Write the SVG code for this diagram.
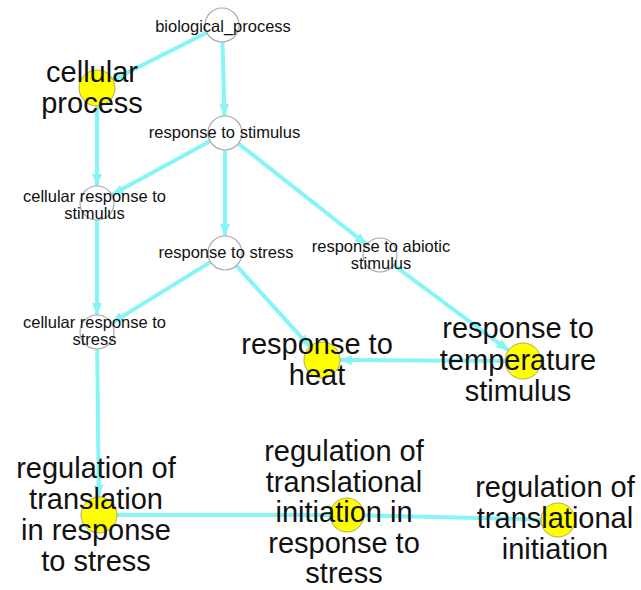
<svg xmlns="http://www.w3.org/2000/svg" width="641" height="590" viewBox="0 0 641 590">
<style>
.e{stroke:#86f5f7;stroke-width:4;fill:none}
.a{marker-end:url(#arr)}
.w{fill:#ffffff;stroke:#aaaaaa;stroke-width:1.2}
.y{fill:#ffff00;stroke:#aaaa66;stroke-width:1}
.s{font-family:"Liberation Sans",Arial,sans-serif;font-size:16.5px;fill:#111;text-anchor:middle}
.l{font-family:"Liberation Sans",Arial,sans-serif;font-size:29px;fill:#111;text-anchor:middle}
</style>
<defs>
<marker id="arr" viewBox="0 0 12 10" refX="12" refY="5" markerWidth="12" markerHeight="10" markerUnits="userSpaceOnUse" orient="auto">
<path d="M0,0 L12,5 L0,10 z" fill="#86f5f7"/>
</marker>
</defs>
<rect width="641" height="590" fill="#ffffff"/>
<g id="edges">
<line class="e a" x1="222" y1="25" x2="113.1" y2="79.9"/>
<line class="e a" x1="222" y1="25" x2="224.5" y2="116"/>
<line class="e a" x1="97" y1="88" x2="97" y2="186"/>
<line class="e a" x1="225" y1="133" x2="111.9" y2="194.8"/>
<line class="e a" x1="225" y1="133" x2="225" y2="236"/>
<line class="e a" x1="225" y1="133" x2="366.6" y2="244.5"/>
<line class="e a" x1="97" y1="203" x2="97" y2="315"/>
<line class="e a" x1="225" y1="253" x2="111.5" y2="323.1"/>
<line class="e a" x1="225" y1="253" x2="309.9" y2="346.7"/>
<line class="e a" x1="380" y1="255" x2="508.5" y2="350.3"/>
<line class="e a" x1="523" y1="361" x2="340" y2="360.1"/>
<line class="e a" x1="97" y1="332" x2="98.8" y2="497"/>
<line class="e" x1="99" y1="515" x2="347" y2="515"/>
<line class="e" x1="347" y1="515" x2="558" y2="520"/>
</g>
<g id="biological_process"><circle class="w" cx="222" cy="25" r="17"/><text class="s" x="223" y="32">biological_process</text></g>
<g id="cellular_process"><circle class="y" cx="97" cy="88" r="18"/><text class="l" x="92" y="82">cellular</text><text class="l" x="92" y="113">process</text></g>
<g id="response_to_stimulus"><circle class="w" cx="225" cy="133" r="17"/><text class="s" x="224.5" y="138">response to stimulus</text></g>
<g id="cellular_response_to_stimulus"><circle class="w" cx="97" cy="203" r="17"/><text class="s" x="94.5" y="202">cellular response to</text><text class="s" x="94.5" y="219">stimulus</text></g>
<g id="response_to_stress"><circle class="w" cx="225" cy="253" r="17"/><text class="s" x="226" y="258">response to stress</text></g>
<g id="response_to_abiotic_stimulus"><circle class="w" cx="380" cy="255" r="17"/><text class="s" x="381" y="252">response to abiotic</text><text class="s" x="381" y="269">stimulus</text></g>
<g id="cellular_response_to_stress"><circle class="w" cx="97" cy="332" r="17"/><text class="s" x="94.5" y="328">cellular response to</text><text class="s" x="94.5" y="345">stress</text></g>
<g id="response_to_heat"><circle class="y" cx="322" cy="360" r="18"/><text class="l" x="317" y="354">response to</text><text class="l" x="317" y="385">heat</text></g>
<g id="response_to_temperature_stimulus"><circle class="y" cx="523" cy="361" r="18"/><text class="l" x="518" y="338">response to</text><text class="l" x="518" y="370">temperature</text><text class="l" x="518" y="401">stimulus</text></g>
<g id="regulation_of_translation_in_response_to_stress"><circle class="y" cx="99" cy="515" r="18"/><text class="l" x="96" y="478">regulation of</text><text class="l" x="96" y="509">translation</text><text class="l" x="96" y="540">in response</text><text class="l" x="96" y="571">to stress</text></g>
<g id="regulation_of_translational_initiation_in_response_to_stress"><circle class="y" cx="347" cy="515" r="17"/><text class="l" x="344" y="461">regulation of</text><text class="l" x="344" y="491.5">translational</text><text class="l" x="344" y="522">initiation in</text><text class="l" x="344" y="552.5">response to</text><text class="l" x="344" y="583">stress</text></g>
<g id="regulation_of_translational_initiation"><circle class="y" cx="558" cy="520" r="17"/><text class="l" x="555" y="497">regulation of</text><text class="l" x="555" y="528">translational</text><text class="l" x="555" y="559">initiation</text></g>
</svg>
